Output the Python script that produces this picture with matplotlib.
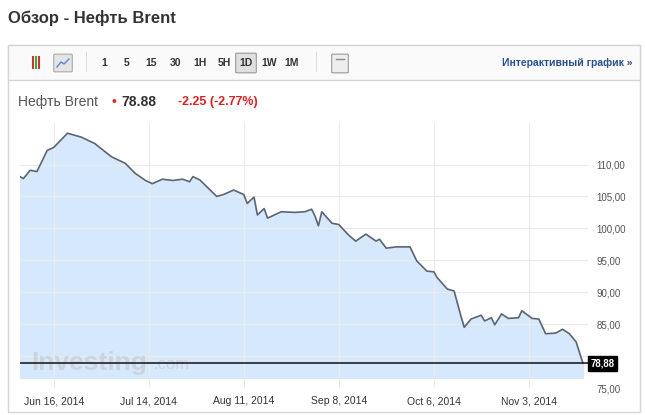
import matplotlib
matplotlib.use("Agg")
import matplotlib.pyplot as plt
from matplotlib.patches import Rectangle, FancyBboxPatch
from matplotlib.lines import Line2D
import pandas as pd

base_date = "2014-06-16"
day_offsets = [-10, -9, -7, -5, -2, 0, 4, 8, 12, 17, 21, 24, 27, 29, 32, 35, 38, 40, 41, 43,
               48, 50, 53, 56, 57, 59, 60, 62, 63, 67, 71, 74, 76, 77, 78, 79, 82, 84, 87, 89,
               92, 95, 96, 98, 101, 105, 107, 110, 112, 113, 116, 118, 120, 121, 123, 126, 127,
               129, 130, 132, 134, 137, 138, 141, 143, 145, 148, 150, 152, 154, 156]
prices = [108.1, 107.8, 109.1, 108.9, 112.2, 112.7, 114.9, 114.3, 113.3, 111.2, 110.2, 108.6,
          107.5, 107.0, 107.7, 107.5, 107.7, 107.3, 108.1, 107.6, 105.0, 105.3, 106.0, 105.3,
          103.9, 104.9, 102.1, 103.1, 101.6, 102.6, 102.5, 102.6, 103.0, 101.9, 100.4, 102.6,
          100.8, 100.6, 98.9, 98.0, 99.1, 98.0, 98.3, 96.9, 97.1, 97.1, 94.9, 93.3, 93.2, 92.3,
          90.5, 90.2, 86.3, 84.5, 85.8, 86.4, 85.5, 86.0, 84.9, 86.6, 85.9, 86.0, 87.1, 85.9,
          85.8, 83.5, 83.6, 84.2, 83.5, 82.2, 78.88]
tick_dates = ["2014-06-16", "2014-07-14", "2014-08-11", "2014-09-08", "2014-10-06", "2014-11-03"]
tick_labels = ["Jun 16, 2014", "Jul 14, 2014", "Aug 11, 2014", "Sep 8, 2014", "Oct 6, 2014", "Nov 3, 2014"]
y_ticks = [75, 80, 85, 90, 95, 100, 105, 110]
last_price = 78.88

b = pd.Timestamp(base_date)
dates = [b + pd.Timedelta(days=d) for d in day_offsets]

W, H = 645, 415
fig = plt.figure(figsize=(W/100, H/100), dpi=100)
fig.patch.set_facecolor("white")
plt.rcParams['font.family'] = ['Liberation Sans', 'DejaVu Sans']

def fx(px): return px / W
def fy(py): return 1 - py / H

fig.text(fx(8), fy(18), "Обзор - Нефть Brent", fontsize=12, fontweight="bold", color="#333333", va="center")
fig.add_artist(Rectangle((fx(8), fy(412)), fx(632), fy(45) - fy(412), transform=fig.transFigure,
                         fill=False, ec="#d5d5d5", lw=1))
fig.add_artist(Rectangle((fx(8), fy(80)), fx(632), fy(45) - fy(80), transform=fig.transFigure,
                         fc="#fafafa", ec="#d5d5d5", lw=1))
for x, c in [(33, "#cc3333"), (36, "#33aa33"), (39, "#cc3333")]:
    fig.add_artist(Line2D([fx(x), fx(x)], [fy(68), fy(57)], transform=fig.transFigure, color=c, lw=1.5))
fig.add_artist(FancyBboxPatch((fx(55), fy(71)), fx(16), fy(55) - fy(71), boxstyle="round,pad=0.002",
                              transform=fig.transFigure, fc="#e4e4e4", ec="#aaaaaa", lw=0.8))
fig.add_artist(Line2D([fx(57), fx(61), fx(64), fx(69)], [fy(67), fy(62), fy(64), fy(59)],
                      transform=fig.transFigure, color="#5588cc", lw=1))
fig.add_artist(Rectangle((fx(86), fy(72)), fx(1), fy(52) - fy(72), transform=fig.transFigure, fc="#dddddd", ec="none"))
fig.add_artist(FancyBboxPatch((fx(237), fy(72)), fx(18), fy(54) - fy(72), boxstyle="round,pad=0.002",
                              transform=fig.transFigure, fc="#e0e0e0", ec="#999999", lw=0.8))
items = [("1", 104), ("5", 127), ("15", 151), ("30", 176), ("1H", 200), ("5H", 224), ("1D", 246), ("1W", 269), ("1M", 292)]
for t, x in items:
    fig.text(fx(x), fy(63), t, fontsize=7.5, fontweight="bold", color="#333333", va="center", ha="center")
fig.add_artist(Rectangle((fx(316), fy(72)), fx(1), fy(52) - fy(72), transform=fig.transFigure, fc="#dddddd", ec="none"))
fig.add_artist(FancyBboxPatch((fx(333), fy(72)), fx(14), fy(55) - fy(72), boxstyle="round,pad=0.002",
                              transform=fig.transFigure, fc="#eeeeee", ec="#999999", lw=0.8))
fig.add_artist(Line2D([fx(336), fx(344)], [fy(59), fy(59)], transform=fig.transFigure, color="#888888", lw=1))
fig.text(fx(633), fy(63), "Интерактивный график »", fontsize=7.5, fontweight="bold", color="#2a4f8f", va="center", ha="right")
fig.text(fx(18), fy(102), "Нефть Brent", fontsize=10, color="#555555", va="center")
fig.text(fx(112), fy(102), "•", fontsize=10, color="#dd2222", va="center")
fig.text(fx(121), fy(102), "78.88", fontsize=10, fontweight="bold", color="#333333", va="center")
fig.text(fx(178), fy(102), "-2.25 (-2.77%)", fontsize=9, fontweight="bold", color="#dd2222", va="center")

ax = fig.add_axes([fx(20), fy(388), fx(568), fy(123) - fy(388)])
ax.set_ylim(75, 116.5)
ax.set_xlim(b + pd.Timedelta(days=-10), b + pd.Timedelta(days=157.5))
for s in ax.spines.values():
    s.set_visible(False)
ax.fill_between(dates, prices, 76.6, color="#d6e8fb", zorder=1)
ax.plot(dates, prices, color="#5d6670", lw=1.2, zorder=3)
ax.set_xticks([pd.Timestamp(t) for t in tick_dates])
ax.set_xticklabels(tick_labels, fontsize=7.5, color="#333333")
ax.set_yticks(y_ticks)
ax.set_yticklabels([f"{v:.2f}".replace(".", ",") if v != 80 else "" for v in y_ticks], fontsize=7, color="#555555")
ax.yaxis.tick_right()
ax.tick_params(length=0, axis="both", pad=6)
ax.grid(True, color="#ebebeb", lw=0.8, zorder=0)
ax.axhline(last_price, color="#222222", lw=1.2, zorder=4)
ax.text(1.005, last_price, f"{last_price:.2f}".replace(".", ","), transform=ax.get_yaxis_transform(),
        fontsize=7, fontweight="bold", color="white", va="center", ha="left", zorder=6,
        bbox=dict(boxstyle="square,pad=0.25", fc="black", ec="black"))
ax.text(0.02, 0.095, "Investing", transform=ax.transAxes, fontsize=19, fontweight="bold",
        color="#c4c8cc", alpha=0.6, zorder=2, va="center")
ax.text(0.235, 0.09, ".com", transform=ax.transAxes, fontsize=12, color="#c4c8cc", alpha=0.6, zorder=2, va="center")

fig.savefig("out.png", dpi=100)
